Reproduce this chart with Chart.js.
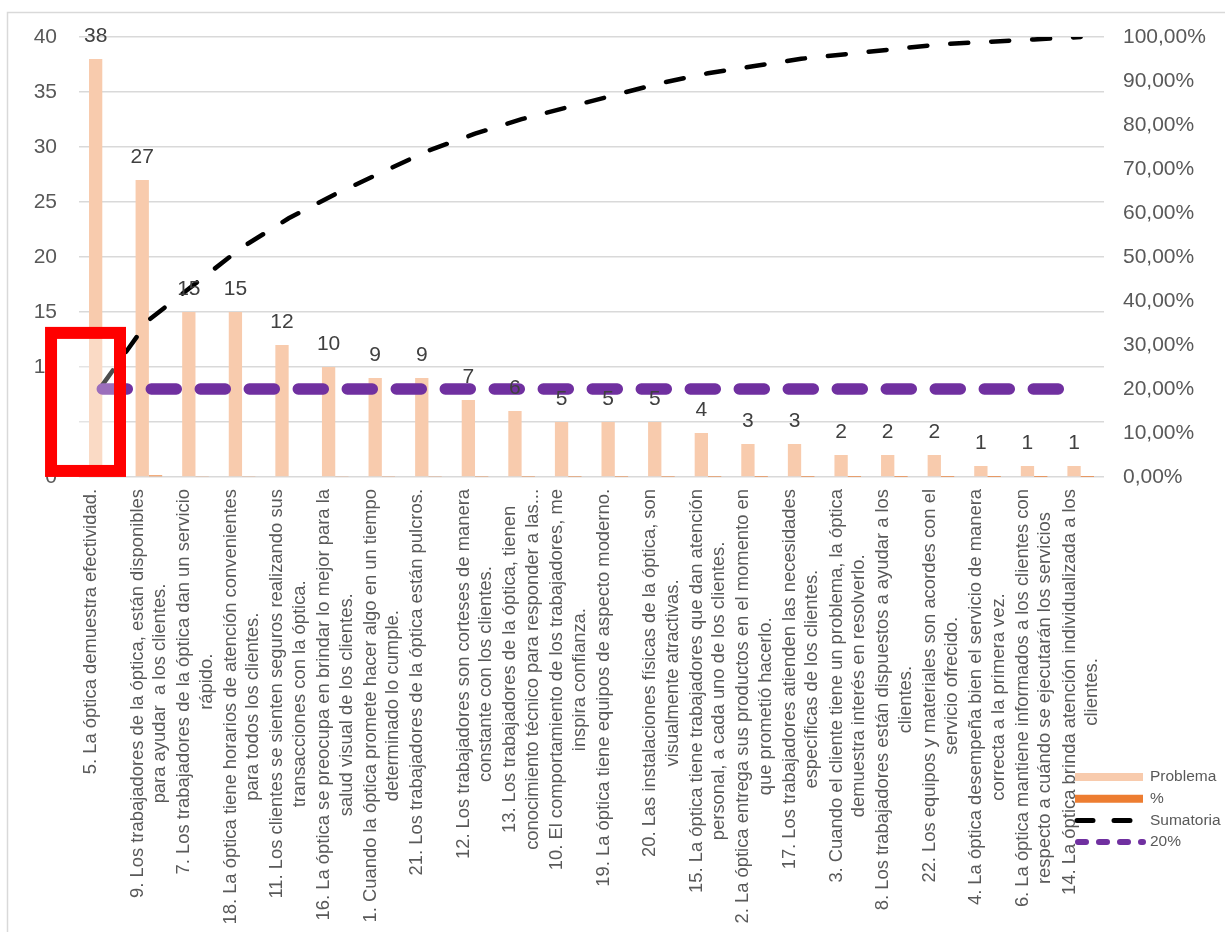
<!DOCTYPE html>
<html>
<head>
<meta charset="utf-8">
<title>Diagrama de Pareto</title>
<script src="https://cdn.jsdelivr.net/npm/chart.js@4.4.1/dist/chart.umd.min.js"></script>
<style>
  html, body { margin: 0; padding: 0; background: #ffffff; }
  canvas { display: block; }
</style>
</head>
<body>
<canvas id="pareto" width="1225" height="932"></canvas>
<script>
// Ítems de la encuesta, ordenados de mayor a menor número de problemas
const categories = [
  ["5. La óptica demuestra efectividad."],
  ["9. Los trabajadores de la óptica, están disponibles", "para ayudar  a los clientes."],
  ["7. Los trabajadores de la óptica dan un servicio", "rápido."],
  ["18. La óptica tiene horarios de atención convenientes", "para todos los clientes."],
  ["11. Los clientes se sienten seguros realizando sus", "transacciones con la óptica."],
  ["16. La óptica se preocupa en brindar lo mejor para la", "salud visual de los clientes."],
  ["1. Cuando la óptica promete hacer algo en un tiempo", "determinado lo cumple."],
  ["21. Los trabajadores de la óptica están pulcros."],
  ["12. Los trabajadores son corteses de manera", "constante con los clientes."],
  ["13. Los trabajadores de la óptica, tienen", "conocimiento técnico para responder a las..."],
  ["10. El comportamiento de los trabajadores, me", "inspira confianza."],
  ["19. La óptica tiene equipos de aspecto moderno."],
  ["20. Las instalaciones físicas de la óptica, son", "visualmente atractivas."],
  ["15. La óptica tiene trabajadores que dan atención", "personal, a cada uno de los clientes."],
  ["2. La óptica entrega sus productos en el momento en", "que prometió hacerlo."],
  ["17. Los trabajadores atienden las necesidades", "específicas de los clientes."],
  ["3. Cuando el cliente tiene un problema, la óptica", "demuestra interés en resolverlo."],
  ["8. Los trabajadores están dispuestos a ayudar a los", "clientes."],
  ["22. Los equipos y materiales son acordes con el", "servicio ofrecido."],
  ["4. La óptica desempeña bien el servicio de manera", "correcta a la primera vez."],
  ["6. La óptica mantiene informados a los clientes con", "respecto a cuándo se ejecutarán los servicios"],
  ["14. La óptica brinda atención individualizada a los", "clientes."]
];

// Frecuencia de cada problema
const problema = [38, 27, 15, 15, 12, 10, 9, 9, 7, 6, 5, 5, 5, 4, 3, 3, 2, 2, 2, 1, 1, 1];

// Participación de cada problema sobre el total (182)
const porcentaje = [0.2088, 0.1484, 0.0824, 0.0824, 0.0659, 0.0549, 0.0495, 0.0495, 0.0385, 0.0330, 0.0275,
                    0.0275, 0.0275, 0.0220, 0.0165, 0.0165, 0.0110, 0.0110, 0.0110, 0.0055, 0.0055, 0.0055];

// Porcentaje acumulado
const sumatoria = [0.2088, 0.3571, 0.4396, 0.5220, 0.5879, 0.6429, 0.6923, 0.7418, 0.7802, 0.8132, 0.8407,
                   0.8681, 0.8956, 0.9176, 0.9341, 0.9505, 0.9615, 0.9725, 0.9835, 0.9890, 0.9945, 1.0000];

// Línea de referencia del 20 %
const umbral = [0.2, 0.2, 0.2, 0.2, 0.2, 0.2, 0.2, 0.2, 0.2, 0.2, 0.2,
                0.2, 0.2, 0.2, 0.2, 0.2, 0.2, 0.2, 0.2, 0.2, 0.2, 0.2];

// Rango de los ejes
const ejeIzq = { min: 0, max: 40, step: 5 };
const ejeDer = { min: 0, max: 1, step: 0.1 };

const FONT = "'Liberation Sans', Arial, sans-serif";
const TEXT_GRAY = '#595959';
Chart.defaults.font.family = FONT;

const formatoPorcentaje = v => (v * 100).toFixed(2).replace('.', ',') + '%';

// Fondo y marco exterior del gráfico
const framePlugin = {
  id: 'frame',
  beforeDraw(chart) {
    const ctx = chart.ctx;
    ctx.save();
    ctx.fillStyle = '#ffffff';
    ctx.fillRect(0, 0, chart.width, chart.height);
    ctx.strokeStyle = '#d9d9d9';
    ctx.lineWidth = 1.5;
    ctx.strokeRect(7.5, 12.5, chart.width + 50, chart.height + 50);
    ctx.restore();
  }
};

// Etiquetas de categoría giradas, centradas entre sí y pegadas al eje
const categoryLabelsPlugin = {
  id: 'categoryLabels',
  afterDatasetsDraw(chart) {
    const ctx = chart.ctx;
    const xScale = chart.scales.x;
    const top = chart.chartArea.bottom + 12;
    const lineH = 22.5;
    ctx.save();
    ctx.font = '18.4px ' + FONT;
    ctx.fillStyle = TEXT_GRAY;
    ctx.textAlign = 'center';
    ctx.textBaseline = 'middle';
    chart.data.labels.forEach((lines, i) => {
      const cx = xScale.getPixelForValue(i);
      const maxW = Math.max(...lines.map(l => ctx.measureText(l).width));
      const cy = top + maxW / 2;
      lines.forEach((line, j) => {
        ctx.save();
        ctx.translate(cx + (j - 0.5) * lineH, cy);
        ctx.rotate(-Math.PI / 2);
        ctx.fillText(line, 0, 0);
        ctx.restore();
      });
    });
    ctx.restore();
  }
};

// Valor de cada barra encima de ella
const valueLabelsPlugin = {
  id: 'valueLabels',
  afterDatasetsDraw(chart) {
    const ctx = chart.ctx;
    const meta = chart.getDatasetMeta(0);
    const data = chart.data.datasets[0].data;
    ctx.save();
    ctx.font = '21px ' + FONT;
    ctx.fillStyle = '#404040';
    ctx.textAlign = 'center';
    ctx.textBaseline = 'middle';
    meta.data.forEach((bar, i) => {
      ctx.fillText(String(data[i]), bar.x, bar.y - 23);
    });
    ctx.restore();
  }
};

// Leyenda en columna, abajo a la derecha
const legendPlugin = {
  id: 'columnLegend',
  afterDraw(chart) {
    const ctx = chart.ctx;
    const ds = chart.data.datasets;
    const x0 = 1075, x1 = 1143, tx = 1150, y0 = 777, rowH = 21.7;
    const items = [
      { label: ds[0].label, color: ds[0].backgroundColor, width: 8, dash: [], cap: 'butt' },
      { label: ds[1].label, color: ds[1].backgroundColor, width: 8, dash: [], cap: 'butt' },
      { label: ds[2].label, color: ds[2].borderColor, width: 5, dash: [16, 21], cap: 'round', start: 2 },
      { label: ds[3].label, color: ds[3].borderColor, width: 6, dash: [8, 13], cap: 'round', start: 3 }
    ];
    ctx.save();
    ctx.font = '15.5px ' + FONT;
    ctx.textBaseline = 'middle';
    ctx.textAlign = 'left';
    items.forEach((it, k) => {
      const y = y0 + k * rowH;
      ctx.beginPath();
      ctx.strokeStyle = it.color;
      ctx.lineWidth = it.width;
      ctx.lineCap = it.cap;
      ctx.setLineDash(it.dash);
      ctx.moveTo(x0 + (it.start || 0), y);
      ctx.lineTo(x1, y);
      ctx.stroke();
      ctx.setLineDash([]);
      ctx.fillStyle = TEXT_GRAY;
      ctx.fillText(it.label, tx, y);
    });
    ctx.restore();
  }
};

// Recuadro rojo de resaltado sobre la primera categoría
const highlightBox = { xFrom: -1.1, xTo: 0.38, yFrom: 0.55, yTo: 13.1 };
const highlightPlugin = {
  id: 'highlight',
  afterDraw(chart) {
    const ctx = chart.ctx;
    const xs = chart.scales.x, ys = chart.scales.y;
    const l = xs.getPixelForValue(highlightBox.xFrom);
    const r = xs.getPixelForValue(highlightBox.xTo);
    const t = ys.getPixelForValue(highlightBox.yTo);
    const b = ys.getPixelForValue(highlightBox.yFrom);
    ctx.save();
    ctx.fillStyle = 'rgba(255,255,255,0.3)';
    ctx.fillRect(l, t, r - l, b - t);
    ctx.strokeStyle = '#ff0000';
    ctx.lineWidth = 12;
    ctx.strokeRect(l, t, r - l, b - t);
    ctx.restore();
  }
};

new Chart(document.getElementById('pareto'), {
  data: {
    labels: categories,
    datasets: [
      {
        type: 'bar',
        label: 'Problema',
        data: problema,
        backgroundColor: '#F8CBAD',
        yAxisID: 'y',
        order: 2,
        barPercentage: 1,
        categoryPercentage: 0.571
      },
      {
        type: 'bar',
        label: '%',
        data: porcentaje,
        backgroundColor: '#ED7D31',
        yAxisID: 'y',
        order: 3,
        barPercentage: 1,
        categoryPercentage: 0.571
      },
      {
        type: 'line',
        label: 'Sumatoria',
        data: sumatoria,
        borderColor: '#000000',
        borderWidth: 4.5,
        borderDash: [18, 23],
        borderCapStyle: 'round',
        pointRadius: 0,
        tension: 0,
        fill: false,
        yAxisID: 'y2',
        order: 1
      },
      {
        type: 'line',
        label: '20%',
        data: umbral,
        borderColor: '#7030A0',
        borderWidth: 11.5,
        borderDash: [25, 24],
        borderCapStyle: 'round',
        pointRadius: 0,
        tension: 0,
        fill: false,
        yAxisID: 'y2',
        order: 0
      }
    ]
  },
  options: {
    responsive: false,
    animation: false,
    devicePixelRatio: 1,
    layout: { padding: { left: 34, right: 0, top: 37, bottom: 455 } },
    plugins: {
      legend: { display: false },
      tooltip: { enabled: false }
    },
    scales: {
      x: {
        type: 'category',
        offset: true,
        display: false
      },
      y: {
        position: 'left',
        min: ejeIzq.min,
        max: ejeIzq.max,
        ticks: { stepSize: ejeIzq.step, color: TEXT_GRAY, font: { size: 21 }, padding: 22 },
        grid: { color: '#d9d9d9', lineWidth: 1.5, drawTicks: false },
        border: { display: false },
        afterFit(scale) { scale.width = 45; }
      },
      y2: {
        position: 'right',
        min: ejeDer.min,
        max: ejeDer.max,
        ticks: { stepSize: ejeDer.step, color: TEXT_GRAY, font: { size: 21 }, padding: 19, callback: formatoPorcentaje },
        grid: { drawOnChartArea: false, drawTicks: false },
        border: { display: false },
        afterFit(scale) { scale.width = 121; }
      }
    }
  },
  plugins: [framePlugin, valueLabelsPlugin, categoryLabelsPlugin, legendPlugin, highlightPlugin]
});
</script>
</body>
</html>
